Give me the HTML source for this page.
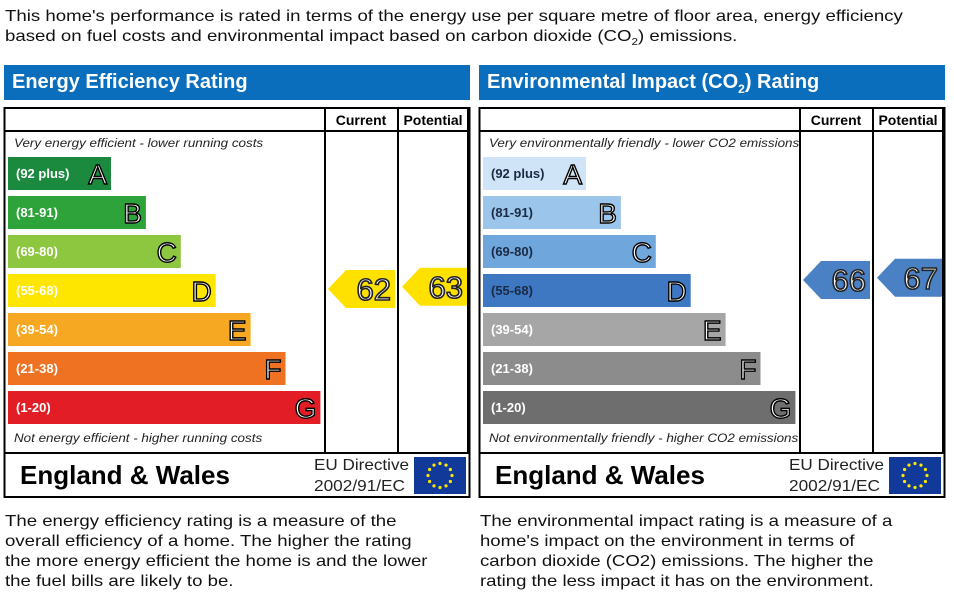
<!DOCTYPE html>
<html><head><meta charset="utf-8"><style>
body{margin:0;background:#fff;width:954px;height:600px;overflow:hidden;font-family:"Liberation Sans",Arial,sans-serif}
</style></head><body>
<svg id="s" width="954" height="600" xmlns="http://www.w3.org/2000/svg" font-family="Liberation Sans, Arial, sans-serif">
<g transform="translate(5,0) scale(1.165,1) translate(-5,0)">
<text x="5" y="21" font-size="16" fill="#111">This home's performance is rated in terms of the energy use per square metre of floor area, energy efficiency</text>
<text x="5" y="41" font-size="16" fill="#111">based on fuel costs and environmental impact based on carbon dioxide (CO<tspan font-size="10" dy="4">2</tspan><tspan dy="-4">) emissions.</tspan></text>
</g>
<g id="panels"></g>
<g transform="translate(5,0) scale(1.163,1) translate(-5,0)">
<text x="5" y="526" font-size="16" fill="#111"><tspan x="5">The energy efficiency rating is a measure of the</tspan><tspan x="5" dy="20">overall efficiency of a home. The higher the rating</tspan><tspan x="5" dy="20">the more energy efficient the home is and the lower</tspan><tspan x="5" dy="20">the fuel bills are likely to be.</tspan></text>
</g>
<g transform="translate(480,0) scale(1.16,1) translate(-480,0)">
<text x="480" y="526" font-size="16" fill="#111"><tspan x="480">The environmental impact rating is a measure of a</tspan><tspan x="480" dy="20">home's impact on the environment in terms of</tspan><tspan x="480" dy="20">carbon dioxide (CO2) emissions. The higher the</tspan><tspan x="480" dy="20">rating the less impact it has on the environment.</tspan></text>
</g>
</svg>
<script>
const bands = ["A","B","C","D","E","F","G"];
const bandLabels = ["(92 plus)","(81-91)","(69-80)","(55-68)","(39-54)","(21-38)","(1-20)"];
const energyColors = ["#1b8a3f","#2ea33a","#8dc63f","#ffe600","#f7a823","#ef7223","#e31d25"];
const envColors = ["#cfe4f6","#9cc5eb","#6fa6dc","#3f78c2","#a6a6a6","#8c8c8c","#6e6e6e"];
const envDarkLabel = [true,true,true,true,false,false,false];
const energyCurrent = 62, energyPotential = 63;
const envCurrent = 66, envPotential = 67;

const NS="http://www.w3.org/2000/svg";
const root=document.getElementById('panels');
function mk(tag,attrs,parent,txt){const e=document.createElementNS(NS,tag);for(const k in attrs)e.setAttribute(k,attrs[k]);if(txt!==undefined)e.textContent=txt;(parent||root).appendChild(e);return e;}
function barY(i){return 157+i*39;}
function barRight(i){return 111+i*34.9;}
function valueY(v){return 289-(v-62)*2.25;}

function panel(ox,title,colors,darkLbl,topTxt,botTxt,cur,pot,arrowCol,arrowTxt){
  const g=mk('g',{});
  
  
  const hb=mk('rect',{x:ox+4,y:65,width:466,height:35,fill:'#0a6ebd'},g);
  
  
  const ht=mk('text',{x:ox+12,y:88,'font-size':20,'font-weight':'bold',fill:'#fff'},g);
  if(title.indexOf('CO')>0){ht.innerHTML='Environmental Impact (CO<tspan font-size="12" dy="5">2</tspan><tspan dy="-5">) Rating</tspan>';}else ht.textContent=title;
  
  
  mk('rect',{x:ox+4.5,y:108,width:465,height:389,fill:'none',stroke:'#000','stroke-width':2},g);
  mk('line',{x1:ox+4,y1:131,x2:ox+470,y2:131,stroke:'#000','stroke-width':2},g);
  mk('line',{x1:ox+4,y1:453,x2:ox+470,y2:453,stroke:'#000','stroke-width':2},g);
  mk('line',{x1:ox+325,y1:108,x2:ox+325,y2:453,stroke:'#000','stroke-width':2},g);
  mk('line',{x1:ox+398,y1:108,x2:ox+398,y2:453,stroke:'#000','stroke-width':2},g);
  mk('line',{x1:ox+468,y1:108,x2:ox+468,y2:453,stroke:'#000','stroke-width':2},g);
  const c1=mk('text',{x:ox+361,y:125,'font-size':14,'font-weight':'bold','text-anchor':'middle'},g,'Current');
  
  const c2=mk('text',{x:ox+433,y:125,'font-size':14,'font-weight':'bold','text-anchor':'middle'},g,'Potential');
  
  const tg=mk('g',{transform:`translate(${ox+14},0) scale(1.118,1) translate(${-(ox+14)},0)`},g);
  mk('text',{x:ox+14,y:147,'font-size':12,'font-style':'italic',fill:'#222'},tg,topTxt);
  mk('text',{x:ox+14,y:442,'font-size':12,'font-style':'italic',fill:'#222'},tg,botTxt);
  bands.forEach((b,i)=>{
    const y=barY(i),r=barRight(i);
    const rc=mk('rect',{x:ox+8,y:y,width:r-8,height:33,fill:colors[i]},g);
    
    
    mk('text',{x:ox+16,y:y+21,'font-size':13,'font-weight':'bold',fill:darkLbl[i]?'#1a2a44':'#fff'},g,bandLabels[i]);
    mk('text',{x:ox+r-4,y:y+27,'font-size':28,'text-anchor':'end',fill:'#fff',stroke:'#000','stroke-width':1.4},g,b);
  });
  function arrow(x0,x1,v,name){
    const cy=valueY(v);
    const p=mk('polygon',{points:`${ox+x0},${cy} ${ox+x0+18},${cy-19} ${ox+x1},${cy-19} ${ox+x1},${cy+19} ${ox+x0+18},${cy+19}`,fill:arrowCol},g);
    
    
    mk('text',{x:ox+x1-4,y:cy+11,'font-size':31,'text-anchor':'end',fill:arrowTxt,stroke:'#222','stroke-width':1.6},g,String(v));
  }
  arrow(328,395,cur,'current-rating-arrow');
  arrow(402,467,pot,'potential-rating-arrow');
  mk('text',{x:ox+20,y:484,'font-size':26,'font-weight':'bold'},g,'England & Wales');
  mk('text',{x:ox+314,y:470,'font-size':16,fill:'#222',textLength:95,lengthAdjust:'spacingAndGlyphs'},g,'EU Directive');
  mk('text',{x:ox+314,y:491,'font-size':16,fill:'#222',textLength:91,lengthAdjust:'spacingAndGlyphs'},g,'2002/91/EC');
  const fl=mk('rect',{x:ox+414,y:457,width:52,height:37,fill:'#10399a'},g);
  
  for(let k=0;k<12;k++){const a=k*Math.PI/6;mk('circle',{cx:ox+440+12*Math.sin(a),cy:475.5-12*Math.cos(a),r:1.6,fill:'#ffe600'},g);}
}
panel(0,'Energy Efficiency Rating',energyColors,[false,false,false,false,false,false,false],'Very energy efficient - lower running costs','Not energy efficient - higher running costs',energyCurrent,energyPotential,'#ffe100','#fff');
panel(475,'Environmental Impact (CO2) Rating',envColors,envDarkLabel,'Very environmentally friendly - lower CO2 emissions','Not environmentally friendly - higher CO2 emissions',envCurrent,envPotential,'#4a80c4','#fff');
</script>
</body></html>
